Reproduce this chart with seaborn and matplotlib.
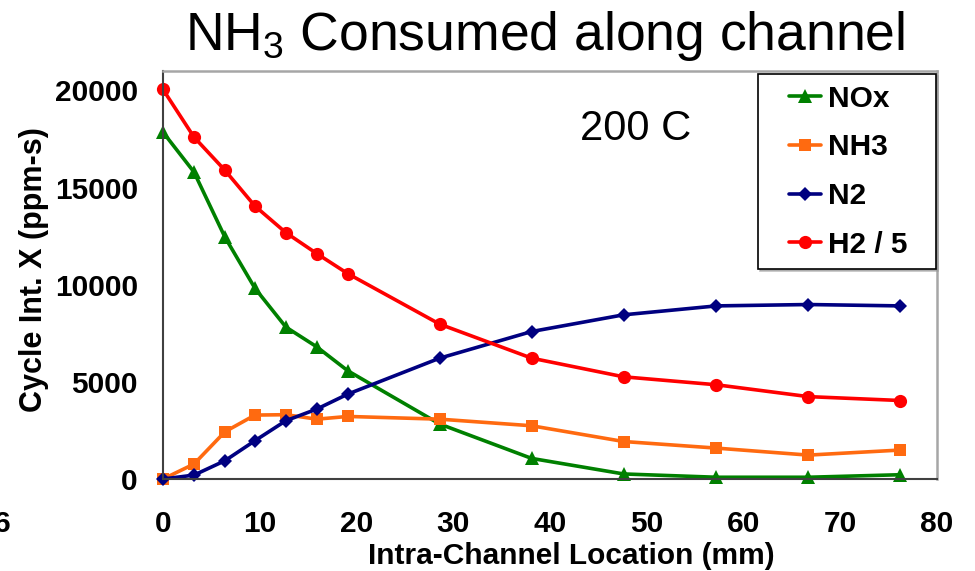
import matplotlib
matplotlib.use("Agg")
import matplotlib.pyplot as plt
import seaborn as sns
from matplotlib.lines import Line2D
from matplotlib.legend_handler import HandlerLine2D
from matplotlib.ticker import MultipleLocator

# ---- data ----
x_mm = [0, 3.2, 6.4, 9.5, 12.7, 15.9, 19.1, 28.6, 38.1, 47.6, 57.2, 66.7, 76.2]
nox = [17850, 15800, 12450, 9820, 7820, 6800, 5570, 2830, 1060, 260, 90, 90, 220]
nh3 = [0, 770, 2430, 3290, 3310, 3080, 3220, 3080, 2740, 1930, 1590, 1230, 1490]
n2 = [0, 200, 940, 1970, 3000, 3600, 4370, 6220, 7590, 8450, 8910, 8980, 8910]
h2_div5 = [20050, 17600, 15890, 14050, 12680, 11600, 10570, 7970, 6220, 5260, 4850, 4240, 4040]

series_names = ["NOx", "NH3", "N2", "H2 / 5"]
series_vals = [nox, nh3, n2, h2_div5]
colors = ["#008000", "#FF6A10", "#000080", "#FF0000"]
markers = ["^", "s", "D", "o"]
msizes = [9.5, 8.5, 7, 9.5]

title = "NH$_3$ Consumed along channel"
xlabel = "Intra-Channel Location (mm)"
ylabel = "Cycle Int. X (ppm-s)"
annot = "200 C"

sns.set_style("white")
plt.rcParams["font.family"] = ["Liberation Sans", "DejaVu Sans"]
plt.rcParams["mathtext.default"] = "regular"
for k in ["text.color", "axes.labelcolor", "xtick.color", "ytick.color"]:
    plt.rcParams[k] = "black"

fig = plt.figure(figsize=(9.75, 5.71), dpi=100)
ax = fig.add_axes([163 / 975, 1 - 479 / 571, 774 / 975, 408 / 571])

for name, vals, c, m, ms in zip(series_names, series_vals, colors, markers, msizes):
    sns.lineplot(x=x_mm, y=vals, ax=ax, color=c, marker=m, markersize=ms,
                 markeredgewidth=0, linewidth=2.6, label=name, clip_on=False,
                 errorbar=None)

ax.set_xlim(0, 80)
ax.set_ylim(0, 21000)
ax.xaxis.set_major_locator(MultipleLocator(10))
ax.xaxis.set_minor_locator(MultipleLocator(5))
ax.yaxis.set_minor_locator(MultipleLocator(1000))
ax.set_yticks([0, 5000, 10000, 15000, 20000])

tick_col = "#333333"
ax.tick_params(axis="x", which="major", direction="inout", length=13, width=1.1,
               color=tick_col, labelcolor="black", pad=16, labelsize=21.5)
ax.tick_params(axis="x", which="minor", direction="out", length=5, width=1.1,
               color=tick_col)
ax.tick_params(axis="y", which="major", direction="out", length=7, width=1.1,
               color=tick_col, labelcolor="black", pad=11, labelsize=21.5)
ax.tick_params(axis="y", which="minor", direction="out", length=5, width=1.1,
               color=tick_col)
for lab in ax.get_xticklabels() + ax.get_yticklabels():
    lab.set_fontweight("bold")

for side in ["left", "bottom"]:
    ax.spines[side].set_color("#404040")
    ax.spines[side].set_linewidth(1.5)
for side in ["top", "right"]:
    ax.spines[side].set_color("#A6A6A6")
    ax.spines[side].set_linewidth(1.8)

ax.set_xlabel(xlabel, fontsize=21.5, fontweight="bold", va="baseline")
ax.xaxis.set_label_coords(0.528, -0.208)
ax.set_ylabel(ylabel, fontsize=22, fontweight="bold", va="center")
ax.yaxis.set_label_coords((34 - 163) / 774, (479 - 270) / 408)

fig.text(545 / 975, 1 - 50 / 571, title, ha="center", va="baseline", fontsize=38.5)
ax.text((580 - 163) / 774, (479 - 140) / 408, annot, transform=ax.transAxes,
        ha="left", va="baseline", fontsize=30)
fig.text(11 / 975, 1 - 532 / 571, "6", ha="right", va="baseline", fontsize=21.5,
         fontweight="bold")

handles, labels = ax.get_legend_handles_labels()
leg = ax.legend(handles, labels, loc="upper left",
                bbox_to_anchor=((758 - 163) / 774, 0.50, (936 - 758) / 774,
                                1 - (74 - 71) / 408 - 0.50),
                mode="expand", borderaxespad=0, borderpad=0.36,
                labelspacing=0.69, handlelength=1.74, handletextpad=0.25,
                prop={"size": 21.5, "weight": "bold"}, fancybox=False,
                framealpha=1, edgecolor="black",
                shadow={"color": "#999999", "alpha": 0.6, "ox": 1.5, "oy": -1.5},
                handler_map={Line2D: HandlerLine2D(xpad=0.67)})
leg.get_frame().set_linewidth(1.2)

fig.savefig("out.png", dpi=100)
